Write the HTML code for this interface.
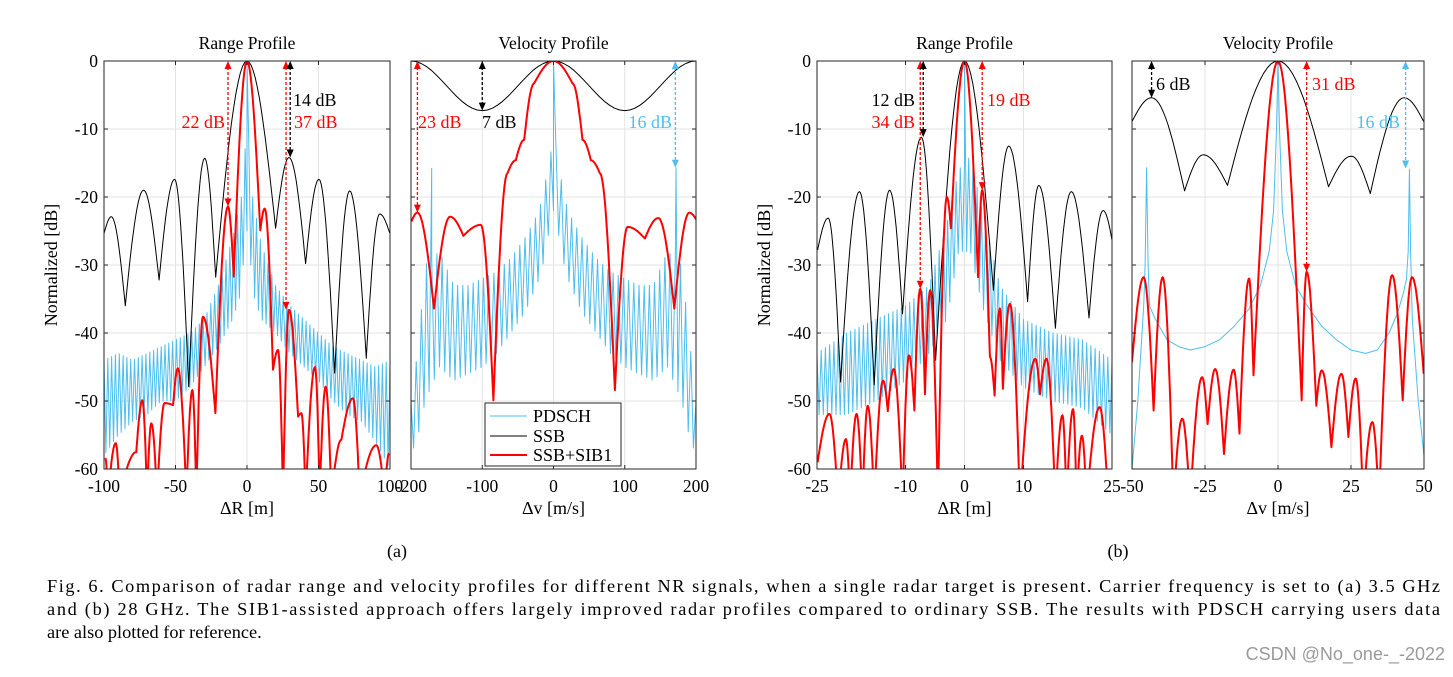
<!DOCTYPE html>
<html><head><meta charset="utf-8"><style>
body{margin:0;background:#fff;}
svg text{font-family:"Liberation Serif",serif;}
</style></head><body>
<svg id="fig" width="1453" height="672" viewBox="0 0 1453 672" xmlns="http://www.w3.org/2000/svg">
<rect width="1453" height="672" fill="#fff"/>
<g id="plots"></g>
<text x="397" y="557" font-size="18" text-anchor="middle">(a)</text>
<text x="1118" y="557" font-size="18" text-anchor="middle">(b)</text>
<g font-size="18.3">
<text x="47" y="592" textLength="1393" lengthAdjust="spacing">Fig. 6. Comparison of radar range and velocity profiles for different NR signals, when a single radar target is present. Carrier frequency is set to (a) 3.5 GHz</text>
<text x="47" y="615" textLength="1393" lengthAdjust="spacing">and (b) 28 GHz. The SIB1-assisted approach offers largely improved radar profiles compared to ordinary SSB. The results with PDSCH carrying users data</text>
<text x="47" y="638">are also plotted for reference.</text>
</g>
<text x="1445" y="660" font-size="18" text-anchor="end" fill="#9a9a9a" style="font-family:'Liberation Sans',sans-serif">CSDN @No_one-_-2022</text>
</svg>
<script>
// ---------- Panel 1: range profile (a) ----------
const p1SsbX=[-100,-94.9,-85.1,-72.3,-61.5,-50.6,-40.8,-29.6,-21.9,0,20,29.4,41,50.3,61.3,71.8,83.4,92.8,99.8];
const p1SsbY=[-25.4,-22.9,-36,-19,-32.2,-17.4,-47.9,-14.3,-31.8,0,-24.6,-14.2,-29.8,-17.4,-45.9,-19.1,-43.7,-22.5,-25.3];
const p1SibX=[-99.1,-97.2,-91.8,-89,-77.4,-73.2,-69.9,-66.9,-62.9,-57.6,-51.7,-48.3,-42.4,-38.2,-35.4,-30.8,-22.1,-13.3,-9.3,0,9.3,12.4,18.2,21.7,25.2,29.4,35.7,38,41,47.6,50.8,55,59,66,74.1,78.8,90.4,96.3,99.3];
const p1SibY=[-58.4,-64,-56.2,-64,-57.5,-49.9,-64,-53.3,-64,-50.3,-50.6,-45.2,-64,-48.4,-64,-37.6,-51.8,-21.4,-31.7,0,-24.9,-21.7,-45.4,-42.5,-64,-36.6,-52.3,-51.8,-64,-45,-64,-47.9,-64,-55.7,-49.6,-64,-56.5,-64,-57.7];
const p1PdEnvX=[-100,-90,-80,-70,-60,-50,-40,-30,-20,-10,-4,-1,1,4,10,20,30,40,50,60,70,80,90,100];
const p1PdUp=[-44,-43,-44,-43,-42,-41,-40,-38,-33,-26,-20,-12,-12,-20,-27,-33,-36,-38,-40,-42,-43,-44,-45,-44];
const p1PdLo=[-58,-55,-53,-52,-50,-50,-48,-45,-42,-38,-34,-25,-25,-34,-38,-40,-43,-45,-47,-50,-52,-53,-56,-60];
const p1SpikeX=[0];
const p1SpikeY=[0];
// ---------- Panel 2: velocity profile (a) ----------
const p2SsbX=[-200,-100,0,100,200];
const p2SsbY=[0,-7.3,0,-7.3,0];
const p2SibX=[-199.5,-191,-167.7,-145.2,-126.5,-102.1,-84.3,-64.6,-52.9,-41.2,-27.2,0,26.7,40.7,52.5,65.1,86.2,104,128.3,147.1,169.6,190.6,200.9];
const p2SibY=[-23.6,-22.3,-36.4,-22.9,-25.7,-24.1,-49.9,-16.5,-14.6,-11.6,-3.3,0,-3.3,-11.6,-14.6,-16.5,-48.4,-24.4,-26.1,-23.1,-36.4,-22.3,-23.4];
const p2PdEnvX=[-200,-190,-180,-160,-140,-120,-100,-80,-60,-40,-20,-10,-3,3,10,20,40,60,80,100,120,140,160,180,190,200];
const p2PdUp=[-50,-42,-30,-28,-33,-33,-32,-31,-29,-26,-22,-17,-13,-13,-17,-22,-26,-29,-31,-32,-33,-33,-28,-30,-40,-50];
const p2PdLo=[-58,-55,-50,-45,-47,-46,-45,-43,-40,-37,-32,-28,-22,-22,-28,-32,-37,-40,-43,-45,-46,-47,-45,-50,-55,-58];
const p2SpikeX=[-171,0,172];
const p2SpikeY=[-15.8,0,-15.7];
// ---------- Panel 3: range profile (b) ----------
const p3SsbX=[-24.9,-23.1,-21,-17.8,-15.3,-12.7,-10.5,-7.3,-4.9,0,4.9,7.5,10.7,12.6,15.4,18.1,21.1,23.5,25.2];
const p3SsbY=[-27.8,-23.1,-47.2,-19.2,-47.6,-19,-37.2,-11.2,-44,0,-33.7,-12.5,-35.4,-18.3,-39.3,-19.2,-37.8,-22,-27.3];
const p3SibX=[-24.9,-22.9,-21.4,-20.1,-19.4,-18.3,-17.3,-16.4,-15.3,-13.8,-13,-12,-10.5,-9.4,-8.5,-7.5,-6.7,-5.8,-4.5,-3,-2.3,0,2.3,3,4.3,5.1,6,6.5,7.7,9.4,12,12.8,13.9,15.4,16.6,17.3,18.4,19,19.9,20.7,22.9,24.4,25.2];
const p3SibY=[-59,-51.9,-65,-55.6,-65,-51.9,-65,-50.7,-65,-47,-51.5,-45.3,-65,-43.3,-51.4,-33.5,-49,-33.7,-65,-20,-24.6,0,-31.8,-19,-43.5,-49.2,-36.4,-48.2,-35.7,-65,-43.8,-49,-43.8,-65,-52.1,-65,-51.2,-65,-55.1,-65,-50.9,-65,-60];
const p3PdEnvX=[-25,-20,-15,-10,-6,-3,-1,1,3,6,10,15,20,25];
const p3PdUp=[-43,-40,-38,-36,-33,-24,-16,-14,-22,-33,-38,-40,-41,-44];
const p3PdLo=[-52,-52,-50,-47,-43,-38,-28,-28,-36,-44,-48,-50,-51,-55];
const p3SpikeX=[0];
const p3SpikeY=[0];
// ---------- Panel 4: velocity profile (b) ----------
const p4SsbX=[-50,-43.3,-32,-25.6,-17.3,0,17.3,25.1,31.6,43.2,49.9];
const p4SsbY=[-8.9,-5.4,-19.1,-13.8,-18.3,0,-18.5,-14,-19.5,-5.4,-8.9];
const p4SibX=[-50,-46,-42.6,-39.5,-35.8,-32.8,-30.1,-26,-24.1,-21.5,-18.5,-15.2,-13.2,-9.9,-8.4,0,8.1,9.8,13.1,15,18.3,21.7,24.1,26.6,29.2,32.3,34.6,39.1,42.7,45.9,49.9];
const p4SibY=[-44.3,-31.8,-51.4,-31.8,-65,-52.6,-65,-46.5,-53.4,-45.3,-57.8,-45.4,-54.8,-32,-46.2,0,-49.9,-31,-50.7,-45.5,-56.8,-46,-55.3,-46.7,-65,-53.1,-65,-31.5,-49.9,-31.8,-46];
const p4PdX=[-50,-48,-46,-45.5,-45,-44.5,-44,-42,-38,-34,-30,-25,-20,-15,-10,-6,-3,-1.5,-0.5,0,0.5,1.5,3,6,10,15,20,25,30,34,38,41,43,44,44.6,45,45.4,46,48,50];
const p4PdY=[-60,-50,-36,-30,-15.7,-30,-36,-38,-41,-42,-42.5,-42,-41,-39,-36.5,-33,-28,-22,-10,0,-10,-22,-28,-33,-36,-39,-41,-42.5,-43,-42.5,-40,-37,-34,-32,-28,-15.9,-28,-38,-50,-58];
// tick labels
const yTicks=[0,-10,-20,-30,-40,-50,-60];
const p1XTicks=[-100,-50,0,50,100];
const p2XTicks=[-200,-100,0,100,200];
const p3XTicks=[-25,-10,0,10,25];
const p4XTicks=[-50,-25,0,25,50];

const NS="http://www.w3.org/2000/svg";
const root=document.getElementById('plots');
const BLUE="#4DBEEE", RED="#FF0000";
function mk(tag,attrs,parent){const e=document.createElementNS(NS,tag);for(const k in attrs)e.setAttribute(k,attrs[k]);(parent||root).appendChild(e);return e;}

function makePanel(id,L,R,xmin,xmax,xTicks,showY,title,xlabel){
  const T=61,B=469;
  const g=mk('g',{});
  
  
  const sx=v=>L+(v-xmin)/(xmax-xmin)*(R-L);
  const sy=v=>T+(-v)/60*(B-T);
  const cp=mk('clipPath',{id:'clip-'+id},g);
  mk('rect',{x:L,y:T,width:R-L,height:B-T},cp);
  const grid=mk('g',{stroke:'#e3e3e3','stroke-width':1},g);
  
  
  yTicks.forEach(t=>{mk('line',{x1:L,x2:R,y1:sy(t),y2:sy(t)},grid);});
  xTicks.forEach(t=>{mk('line',{x1:sx(t),x2:sx(t),y1:T,y2:B},grid);});
  const data=mk('g',{'clip-path':'url(#clip-'+id+')',fill:'none'},g);
  return {g,data,sx,sy,L,R,T,B,xTicks,showY,title,xlabel,id};
}
function curvePts(P,xs,ys,mode){
  const pts=[];
  for(let i=0;i<xs.length-1;i++){
    const a=ys[i],b=ys[i+1],n=mode==='linear'?1:14;
    for(let k=0;k<(i===xs.length-2?n+1:n);k++){
      const t=k/n,x=xs[i]+(xs[i+1]-xs[i])*t;let y;
      if(mode==='linear')y=a+(b-a)*t;
      else if(mode==='cos')y=a+(b-a)*(1-Math.cos(Math.PI*t))/2;
      else{ if(b>a)y=a+(b-a)*Math.sin(t*Math.PI/2); else y=b+(a-b)*Math.sin((1-t)*Math.PI/2);}
      pts.push(P.sx(x).toFixed(1)+','+P.sy(y).toFixed(1));
    }
  }
  return pts.join(' ');
}
function drawCurve(P,name,xs,ys,mode,color,w){
  const e=mk('polyline',{points:curvePts(P,xs,ys,mode),stroke:color,'stroke-width':w,'stroke-linejoin':'round'},P.data);
  
  
}
function interp(xs,ys,x){
  if(x<=xs[0])return ys[0];
  for(let i=0;i<xs.length-1;i++){if(x<=xs[i+1]){const t=(x-xs[i])/(xs[i+1]-xs[i]);return ys[i]+(ys[i+1]-ys[i])*t;}}
  return ys[ys.length-1];
}
function drawTeeth(P,name,ex,up,lo,n,spX,spY,xmin,xmax){
  let pts=[];
  for(let i=0;i<=n;i++){
    const x=xmin+i*(xmax-xmin)/n;
    pts.push([x,i%2?interp(ex,lo,x):interp(ex,up,x)]);
  }
  spX.forEach((s,j)=>{pts.push([s,spY[j]]);});
  pts.sort((a,b)=>a[0]-b[0]);
  const e=mk('polyline',{points:pts.map(p=>P.sx(p[0]).toFixed(1)+','+P.sy(p[1]).toFixed(1)).join(' '),stroke:BLUE,'stroke-width':1,'stroke-linejoin':'round'},P.data);
  
  
}
function finish(P){
  const {g,L,R,T,B,sx,sy}=P;
  const fr=mk('rect',{x:L,y:T,width:R-L,height:B-T,fill:'none',stroke:'#262626','stroke-width':1},g);
  
  
  const tk=mk('g',{stroke:'#262626','stroke-width':1},g);
  yTicks.forEach(t=>{mk('line',{x1:L,x2:L+4,y1:sy(t),y2:sy(t)},tk);mk('line',{x1:R,x2:R-4,y1:sy(t),y2:sy(t)},tk);});
  P.xTicks.forEach(t=>{mk('line',{x1:sx(t),x2:sx(t),y1:B,y2:B-4},tk);mk('line',{x1:sx(t),x2:sx(t),y1:T,y2:T+4},tk);});
  P.xTicks.forEach(t=>{const e=mk('text',{x:sx(t),y:B+23,'font-size':17.5,'text-anchor':'middle'},g);e.textContent=t;
    });
  if(P.showY){
    yTicks.forEach(t=>{const e=mk('text',{x:L-6,y:sy(t)+6,'font-size':17.5,'text-anchor':'end'},g);e.textContent=t;
      });
    const yl=mk('text',{x:0,y:0,'font-size':18,'text-anchor':'middle',transform:`translate(${L-47},${(T+B)/2}) rotate(-90)`},g);
    yl.textContent='Normalized [dB]';
    
    
  }
  const ti=mk('text',{x:(L+R)/2,y:T-12,'font-size':17.5,'text-anchor':'middle'},g);
  ti.textContent=P.title;
  
  
  const xl=mk('text',{x:(L+R)/2,y:B+45,'font-size':18,'text-anchor':'middle'},g);
  xl.textContent=P.xlabel;
  
  
}
function arrow(P,name,x,y0,y1,color){
  const g=mk('g',{stroke:color,fill:color},P.g);
  
  
  const X=P.sx(x),A=P.sy(y0),Bb=P.sy(y1);
  mk('line',{x1:X,x2:X,y1:A+6,y2:Bb-6,'stroke-width':1.3,'stroke-dasharray':'3,2'},g);
  mk('polygon',{points:`${X-3.5},${A+8} ${X+3.5},${A+8} ${X},${A}`,stroke:'none'},g);
  mk('polygon',{points:`${X-3.5},${Bb-8} ${X+3.5},${Bb-8} ${X},${Bb}`,stroke:'none'},g);
}
function label(P,name,x,y,txt,color,anchor){
  const e=mk('text',{x:x,y:y,'font-size':18,fill:color,'text-anchor':anchor||'start'},P.g);
  e.textContent=txt;
  
  
}

// Panel 1
const P1=makePanel('range-profile-a',104,390,-100,100,p1XTicks,true,'Range Profile','ΔR [m]');
drawTeeth(P1,'pdsch-line',p1PdEnvX,p1PdUp,p1PdLo,150,p1SpikeX,p1SpikeY,-100,100);
drawCurve(P1,'ssb-line',p1SsbX,p1SsbY,'lobe','#000',1);
drawCurve(P1,'ssb-sib1-line',p1SibX,p1SibY,'lobe',RED,2);
finish(P1);
arrow(P1,'arrow-22db',-13.3,0,-21.4,RED);
arrow(P1,'arrow-37db',27.3,0,-36.6,RED);
arrow(P1,'arrow-14db',30.2,0,-14.2,'#000');
label(P1,'label-22db',225,128,'22 dB',RED,'end');
label(P1,'label-14db',293,106,'14 dB','#000');
label(P1,'label-37db',294,128,'37 dB',RED);

// Panel 2
const P2=makePanel('velocity-profile-a',411,696,-200,200,p2XTicks,false,'Velocity Profile','Δv [m/s]');
drawTeeth(P2,'pdsch-line',p2PdEnvX,p2PdUp,p2PdLo,110,p2SpikeX,p2SpikeY,-200,200);
drawCurve(P2,'ssb-line',p2SsbX,p2SsbY,'cos','#000',1);
drawCurve(P2,'ssb-sib1-line',p2SibX,p2SibY,'lobe',RED,2);
finish(P2);
arrow(P2,'arrow-23db',-191,0,-22.3,RED);
arrow(P2,'arrow-7db',-100,0,-7.3,'#000');
arrow(P2,'arrow-16db',171,0,-15.7,BLUE);
label(P2,'label-23db',418,128,'23 dB',RED);
label(P2,'label-7db',482,128,'7 dB','#000');
label(P2,'label-16db',672,128,'16 dB',BLUE,'end');
const lg=mk('g',{},P2.g);


mk('rect',{x:485,y:403,width:136,height:63,fill:'#fff',stroke:'#262626','stroke-width':1},lg);
[['PDSCH',BLUE,1,416],['SSB','#000',1,436],['SSB+SIB1',RED,2,455]].forEach(r=>{
  const e=mk('g',{},lg);
  
  
  mk('line',{x1:490,x2:527,y1:r[3],y2:r[3],stroke:r[1],'stroke-width':r[2]},e);
  const t=mk('text',{x:533,y:r[3]+6,'font-size':18},e);t.textContent=r[0];
});

// Panel 3
const P3=makePanel('range-profile-b',817,1112,-25,25,p3XTicks,true,'Range Profile','ΔR [m]');
drawTeeth(P3,'pdsch-line',p3PdEnvX,p3PdUp,p3PdLo,140,p3SpikeX,p3SpikeY,-25,25);
drawCurve(P3,'ssb-line',p3SsbX,p3SsbY,'lobe','#000',1);
drawCurve(P3,'ssb-sib1-line',p3SibX,p3SibY,'lobe',RED,2);
finish(P3);
arrow(P3,'arrow-34db',-7.5,0,-33.5,RED);
arrow(P3,'arrow-12db',-7.0,0,-11.2,'#000');
arrow(P3,'arrow-19db',3,0,-19,RED);
label(P3,'label-12db',915,106,'12 dB','#000','end');
label(P3,'label-34db',915,128,'34 dB',RED,'end');
label(P3,'label-19db',987,106,'19 dB',RED);

// Panel 4
const P4=makePanel('velocity-profile-b',1132,1424,-50,50,p4XTicks,false,'Velocity Profile','Δv [m/s]');
drawCurve(P4,'pdsch-line',p4PdX,p4PdY,'linear',BLUE,1);
drawCurve(P4,'ssb-line',p4SsbX,p4SsbY,'lobe','#000',1);
drawCurve(P4,'ssb-sib1-line',p4SibX,p4SibY,'lobe',RED,2);
finish(P4);
arrow(P4,'arrow-6db',-43.3,0,-5.4,'#000');
arrow(P4,'arrow-31db',9.8,0,-31,RED);
arrow(P4,'arrow-16db',43.7,0,-15.8,BLUE);
label(P4,'label-6db',1156,90,'6 dB','#000');
label(P4,'label-31db',1312,90,'31 dB',RED);
label(P4,'label-16db',1400,128,'16 dB',BLUE,'end');
</script>
</body></html>
